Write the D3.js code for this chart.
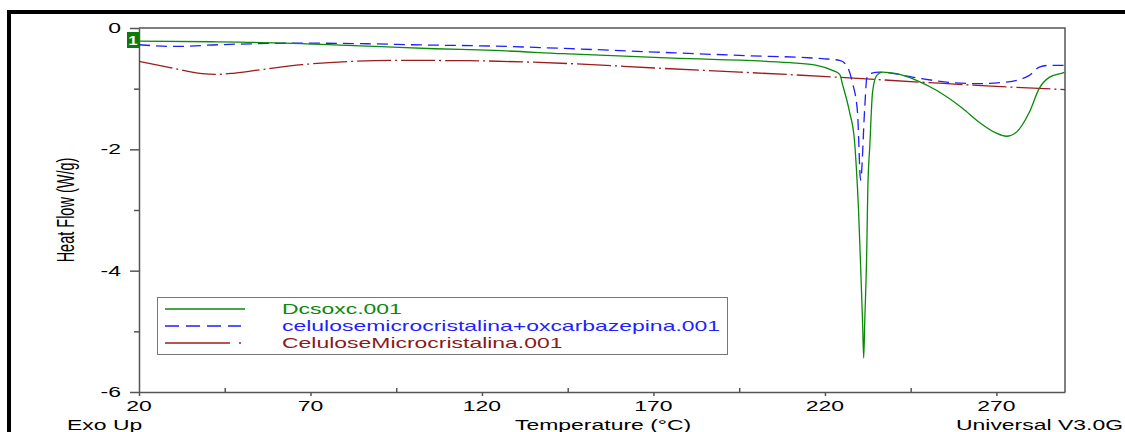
<!DOCTYPE html>
<html>
<head>
<meta charset="utf-8">
<script src="https://cdn.jsdelivr.net/npm/d3@7"></script>
<style>
  html, body { margin: 0; padding: 0; background: #fff; }
  svg { display: block; }
  text { font-family: "Liberation Sans", Arial, sans-serif; }
</style>
</head>
<body>
<svg id="chart" width="1125" height="432"></svg>
<script>
// DSC thermograms: heat flow (W/g) against temperature (°C)
const xTicks = [20, 70, 120, 170, 220, 270];
const xMinorTicks = [45, 95, 145, 195, 245];
const yTicks = [0, -2, -4, -6];
const yMinorTicks = [-1, -3, -5];

const seriesNames = ["Dcsoxc.001", "celulosemicrocristalina+oxcarbazepina.001", "CeluloseMicrocristalina.001"];

// Dcsoxc.001
const dcsTemp = [20, 41.3, 49.4, 73.3, 88.8, 106.2, 123.7, 143.5, 175.6, 209.7, 217.6, 222.2, 224.3, 225.2, 227.2, 228.6, 229.2, 229.8, 230.4, 231.0, 231.3, 231.6, 232.2, 232.5, 233.1, 233.9, 235.1, 236.8, 240.9, 246.7, 252.5, 260.1, 265.0, 270.0, 272.9, 275.8, 279.6, 282.5, 285.4, 289.2, 289.8];
const dcsFlow = [-0.217, -0.227, -0.233, -0.271, -0.304, -0.342, -0.370, -0.424, -0.496, -0.572, -0.616, -0.699, -0.764, -0.945, -1.389, -1.846, -2.34, -3.0, -3.91, -4.89, -5.44, -4.86, -3.66, -2.67, -1.93, -1.05, -0.781, -0.727, -0.753, -0.863, -1.027, -1.323, -1.554, -1.734, -1.784, -1.718, -1.389, -0.995, -0.814, -0.743, -0.732];

// celulosemicrocristalina+oxcarbazepina.001
const mixTemp = [20, 30.5, 43.0, 57.6, 69.2, 86.7, 99.5, 123.7, 146.5, 170.9, 195.1, 219.3, 224.3, 226.3, 228.0, 229.5, 230.4, 231.6, 232.2, 233.1, 236.0, 245.5, 255.4, 265.0, 272.9, 279.6, 282.5, 285.4, 289.8];
const mixFlow = [-0.276, -0.304, -0.276, -0.255, -0.250, -0.260, -0.276, -0.299, -0.342, -0.398, -0.452, -0.506, -0.534, -0.616, -0.896, -1.389, -2.507, -1.323, -0.830, -0.753, -0.727, -0.809, -0.891, -0.917, -0.891, -0.781, -0.644, -0.616, -0.616];

// CeluloseMicrocristalina.001
const celTemp = [20, 28.4, 38.4, 43.0, 48.0, 57.6, 67.5, 82.1, 96.6, 115.9, 146.5, 170.9, 195.1, 219.3, 250.5, 270.0, 290];
const celFlow = [-0.551, -0.644, -0.753, -0.764, -0.743, -0.671, -0.605, -0.551, -0.534, -0.539, -0.589, -0.661, -0.727, -0.797, -0.901, -0.962, -1.016];

const seriesColors = ["#0a8a0a", "#1f1fff", "#9b1c1c"];
const legendTextColors = ["#0a8a0a", "#1f1fff", "#8b1a1a"];
const seriesDash = [null, "11,6", "34,4,2,4"];

const svg = d3.select("#chart");
const stretch = 1.64;   // glyphs are drawn wide
const fontSize = 14;

// outer frame
svg.append("rect")
  .attr("x", 9).attr("y", 12)
  .attr("width", 1140).attr("height", 440)
  .attr("fill", "none").attr("stroke", "#000").attr("stroke-width", 4);

const x = d3.scaleLinear().domain([20, 290]).range([139, 1065]);
const y = d3.scaleLinear().domain([-6, 0]).range([392, 28]);

const axisColor = "#555";

// plot box: top and right edges
svg.append("path")
  .attr("d", `M${x(20)},${y(0)}H${x(290)}V${y(-6)}`)
  .attr("fill", "none").attr("stroke", axisColor).attr("stroke-width", 1.5);

// left axis, major and minor ticks
svg.append("g").attr("transform", `translate(${x(20)},0)`)
  .call(d3.axisLeft(y).tickValues(yTicks).tickSize(9).tickSizeOuter(0).tickFormat(""));
svg.append("g").attr("transform", `translate(${x(20)},0)`)
  .call(d3.axisLeft(y).tickValues(yMinorTicks).tickSize(5).tickSizeOuter(0).tickFormat(""))
  .select(".domain").remove();

// bottom axis, major and minor ticks
svg.append("g").attr("transform", `translate(0,${y(-6)})`)
  .call(d3.axisBottom(x).tickValues(xTicks).tickSize(4).tickSizeOuter(0).tickFormat(""));
svg.append("g").attr("transform", `translate(0,${y(-6)})`)
  .call(d3.axisBottom(x).tickValues(xMinorTicks).tickSize(-4).tickSizeOuter(0).tickFormat(""))
  .select(".domain").remove();

svg.selectAll(".domain, .tick line").attr("stroke", axisColor).attr("stroke-width", 1.5);

// stretched text helper
function label(px, py, txt, anchor, color, size) {
  return svg.append("text")
    .attr("transform", `translate(${px},${py}) scale(${stretch},1)`)
    .attr("text-anchor", anchor || "start")
    .attr("font-size", size || fontSize)
    .attr("fill", color || "#000")
    .text(txt);
}

// tick labels
yTicks.forEach(v => label(121, y(v) + 5, d3.format("d")(v).replace("−", "-"), "end"));
xTicks.forEach(v => label(x(v), 411, String(v), "middle"));

// axis titles and footer
svg.append("text")
  .attr("transform", `translate(74,210) scale(${stretch},1) rotate(-90)`)
  .attr("text-anchor", "middle")
  .attr("font-size", 14.5)
  .text("Heat Flow (W/g)");
label(67, 430, "Exo Up", "start");
label(515, 430, "Temperature (°C)", "start");
label(1123, 430, "Universal V3.0G", "end");

// curves
const line = d3.line()
  .x(d => x(d[0]))
  .y(d => y(d[1]))
  .curve(d3.curveMonotoneX);

const seriesData = [
  d3.zip(dcsTemp, dcsFlow),
  d3.zip(mixTemp, mixFlow),
  d3.zip(celTemp, celFlow)
];

// draw the reference curve first so the others sit on top
[2, 1, 0].forEach(i => {
  svg.append("path")
    .datum(seriesData[i])
    .attr("d", line)
    .attr("fill", "none")
    .attr("stroke", seriesColors[i])
    .attr("stroke-width", 1.3)
    .attr("stroke-dasharray", seriesDash[i]);
});

// curve marker
svg.append("rect")
  .attr("x", 127).attr("y", 32).attr("width", 12).attr("height", 16)
  .attr("fill", "#0a7a0a");
svg.append("text")
  .attr("transform", `translate(133,45) scale(1.3,1)`)
  .attr("text-anchor", "middle")
  .attr("font-size", 13).attr("font-weight", "bold")
  .attr("fill", "#fff")
  .text("1");

// legend
const legend = svg.append("g");
legend.append("rect")
  .attr("x", 157.5).attr("y", 297.5).attr("width", 570).attr("height", 57)
  .attr("fill", "#fff").attr("stroke", "#777").attr("stroke-width", 1);
const legendRows = [309, 326, 343];
seriesNames.forEach((name, i) => {
  const ly = legendRows[i];
  if (i === 2) {
    legend.append("line").attr("x1", 165).attr("x2", 230).attr("y1", ly).attr("y2", ly)
      .attr("stroke", seriesColors[i]).attr("stroke-width", 1.3);
    legend.append("line").attr("x1", 239).attr("x2", 241).attr("y1", ly).attr("y2", ly)
      .attr("stroke", seriesColors[i]).attr("stroke-width", 1.3);
  } else {
    legend.append("line").attr("x1", 165).attr("x2", i === 1 ? 241 : 245).attr("y1", ly).attr("y2", ly)
      .attr("stroke", seriesColors[i]).attr("stroke-width", 1.3)
      .attr("stroke-dasharray", i === 1 ? "14,7" : null);
  }
  label(282, ly + 5, name, "start", legendTextColors[i]);
});
</script>
</body>
</html>
